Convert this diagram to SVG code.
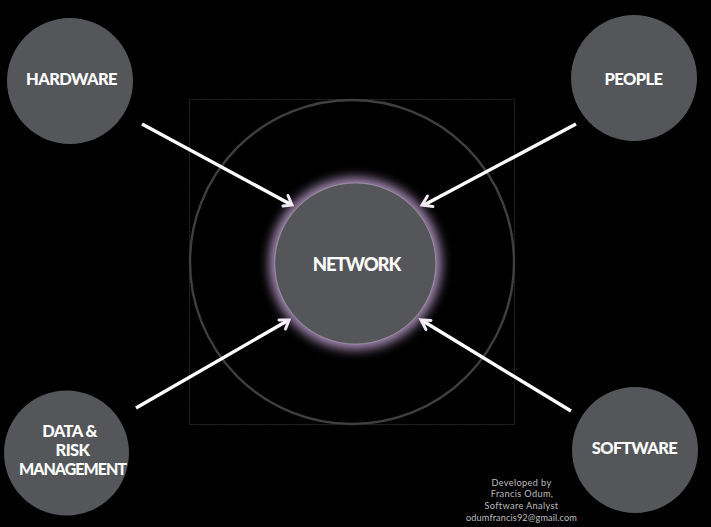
<svg xmlns="http://www.w3.org/2000/svg" width="711" height="527" viewBox="0 0 711 527">
<style>
.n{fill:#54565a}
.t{font-family:"Lato","Liberation Sans",sans-serif;font-weight:900;fill:#fff;text-anchor:middle;font-size:16.500px;letter-spacing:-.6px}
.c{font-family:"Lato","Open Sans",sans-serif;font-weight:400;fill:#bdbdbd;text-anchor:middle;font-size:9.200px;letter-spacing:.35px}
.a{stroke:#fff;stroke-width:3.400;fill:none}
.h{stroke:#f1e9f3;stroke-width:3;fill:none;stroke-linecap:round}
</style>
<defs>
<filter id="g" x="-30%" y="-30%" width="160%" height="160%"><feGaussianBlur stdDeviation="5.500"/></filter>
</defs>
<rect width="711" height="527" fill="#000"/>
<g id="frame">
<rect x="189.500" y="99.500" width="325" height="325" fill="none" stroke="#2b2b2b" stroke-width="1" stroke-dasharray="2 1"/>
<circle cx="352" cy="262" r="162" fill="none" stroke="#3f3f3f" stroke-width="2.400"/>
</g>
<g id="network">
<circle cx="355.300" cy="263.500" r="86" fill="#a98db8" filter="url(#g)"/>
<circle class="n" cx="355.300" cy="263.500" r="80.500" stroke="#c9c3cc" stroke-width=".4"/>
<text class="t" x="356.500" y="271" style="font-size:18.500px;letter-spacing:-1.100px">NETWORK</text>
</g>
<g id="hardware"><circle class="n" cx="70" cy="81" r="63"/><text class="t" x="71.500" y="85">HARDWARE</text></g>
<g id="people"><circle class="n" cx="634" cy="78" r="63"/><text class="t" x="633.500" y="85">PEOPLE</text></g>
<g id="data-risk"><circle class="n" cx="66.500" cy="453" r="62.500"/>
<text class="t" x="69.500" y="437">DATA &amp;</text><text class="t" x="72.500" y="456">RISK</text><text class="t" x="72.500" y="475" style="font-size:16px;letter-spacing:-1px">MANAGEMENT</text></g>
<g id="software"><circle class="n" cx="635" cy="450" r="63"/><text class="t" x="634.500" y="454">SOFTWARE</text></g>
<g id="connectors">
<path class="a" d="M142 124L290 204"/><path class="h" d="M288 195.500L292 205L283 206"/>
<path class="a" d="M576 124L424 205"/><path class="h" d="M427.500 196L422 205L433 206.500"/>
<path class="a" d="M136 408L287 321"/><path class="h" d="M279 320L289 320L285.500 329"/>
<path class="a" d="M571 411L423 321"/><path class="h" d="M426 329.500L421 320L431 320.500"/>
</g>
<g id="credit">
<text class="c" x="521.500" y="486">Developed by</text>
<text class="c" x="522" y="497">Francis Odum,</text>
<text class="c" x="521.500" y="509">Software Analyst</text>
<text class="c" x="521.500" y="520.500" style="letter-spacing:.1px">odumfrancis92@gmail.com</text>
</g>
</svg>
